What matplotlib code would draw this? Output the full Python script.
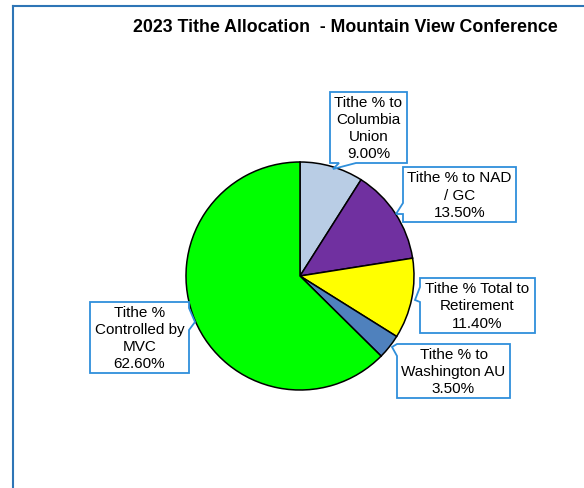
import matplotlib
matplotlib.use('Agg')
import matplotlib.pyplot as plt
from matplotlib.patches import Polygon

# datos del grafico
rotulos = ['Tithe % to\nColumbia\nUnion', 'Tithe % to NAD\n/ GC', 'Tithe % Total to\nRetirement',
           'Tithe % to\nWashington AU', 'Tithe %\nControlled by\nMVC']
valores = [9.00, 13.50, 11.40, 3.50, 62.60]
cores = ['#B9CDE5', '#7030A0', '#FFFF00', '#4F81BD', '#00FF00']
titulo = '2023 Tithe Allocation  - Mountain View Conference'

# caixas dos rotulos (pixels): x0, y0, x1, y1, lado, n0, n1, ponta
caixas = [
    (330, 92, 407, 163, 'bottom', 339, 356, (333, 169)),
    (403, 167, 516, 222, 'left', 203, 214, (396, 214)),
    (420, 278, 535, 333, 'left', 287, 302, (415, 300)),
    (397, 344, 510, 398, 'left', 344, 356, (392, 347)),
    (90, 302, 189, 373, 'right', 308, 330, (195, 322)),
]

W, H = 584, 488
fig = plt.figure(figsize=(W / 100, H / 100), dpi=100)
plt.rcParams['font.family'] = ['Liberation Sans', 'DejaVu Sans']

# pizza
cx, cy, r = 300, 276, 114
ax = fig.add_axes([(cx - r) / W, (H - cy - r) / H, 2 * r / W, 2 * r / H])
ax.pie(valores, colors=cores, startangle=90, counterclock=False,
       wedgeprops=dict(edgecolor='black', linewidth=1.1))
ax.set_xlim(-1, 1)
ax.set_ylim(-1, 1)
ax.set_aspect('equal')
ax.axis('off')

# camada de cima em pixels
bg = fig.add_axes([0, 0, 1, 1], facecolor='none')
bg.set_xlim(0, W)
bg.set_ylim(H, 0)
bg.axis('off')

bg.plot([13, 13], [H, 6], color='#2E75B6', linewidth=1.5)
bg.plot([13, W], [6, 6], color='#2E75B6', linewidth=1.5)

bg.text(345.5, 28, titulo, ha='center', va='center', fontsize=12.75, fontweight='bold')


def balao(x0, y0, x1, y1, lado, n0, n1, ponta):
    pts = [(x0, y0)]
    if lado == 'top':
        pts += [(n0, y0), ponta, (n1, y0)]
    pts.append((x1, y0))
    if lado == 'right':
        pts += [(x1, n0), ponta, (x1, n1)]
    pts.append((x1, y1))
    if lado == 'bottom':
        pts += [(n1, y1), ponta, (n0, y1)]
    pts.append((x0, y1))
    if lado == 'left':
        pts += [(x0, n1), ponta, (x0, n0)]
    return Polygon(pts, closed=True, facecolor='white', edgecolor='#2F8FDB', linewidth=1.3)


for rot, val, cx_ in zip(rotulos, valores, caixas):
    x0, y0, x1, y1, lado, n0, n1, ponta = cx_
    bg.add_patch(balao(x0, y0, x1, y1, lado, n0, n1, ponta))
    bg.text((x0 + x1) / 2, (y0 + y1) / 2 + 1, rot + '\n%.2f%%' % val, ha='center', va='center',
            fontsize=11, linespacing=1.3, multialignment='center')

fig.savefig('out.png', dpi=100)
